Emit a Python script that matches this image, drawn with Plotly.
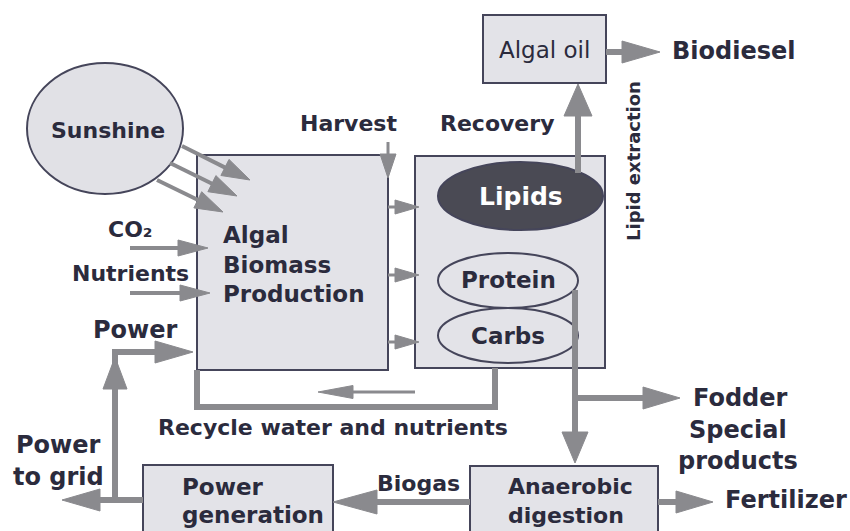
import plotly.graph_objects as go
import math

# ---------------- diagram content ----------------
FONT = "DejaVu Sans"
TXT = "#2b2b3d"
EDGE = "#45455a"
FILL = "#e3e3e8"
ARROW = "#8a8a8e"
DARK = "#4a4a54"

# boxes: (x0, y0, x1, y1)
box_algal_oil = (483, 15, 606, 83)
box_biomass = (197, 155, 388, 370)
box_components = (415, 156, 605, 368)
box_power_gen = (143, 465, 333, 545)
box_anaerobic = (470, 466, 658, 545)

# ellipses: (x0, y0, x1, y1, fill)
ell_sunshine = (27, 63, 183, 194, "#e1e1e6")
ell_lipids = (438, 162, 603, 230, DARK)
ell_protein = (438, 253, 578, 308, FILL)
ell_carbs = (438, 308, 578, 363, FILL)

# labels: (text, x, y, anchor, bold, color, angle, size)
labels = [
    ("Algal oil", 544, 50, "center", False, TXT, 0, 23),
    ("Biodiesel", 733, 51, "center", True, TXT, 0, 24),
    ("Sunshine", 108, 130, "center", True, TXT, 0, 22),
    ("Harvest", 348, 123, "center", True, TXT, 0, 22),
    ("Recovery", 497, 123, "center", True, TXT, 0, 22),
    ("Lipid extraction", 633, 161, "center", True, TXT, -90, 18),
    ("CO₂", 130, 229, "center", True, TXT, 0, 22),
    ("Nutrients", 130, 273, "center", True, TXT, 0, 22),
    ("Power", 135, 330, "center", True, TXT, 0, 24),
    ("Algal", 221, 235, "left", True, TXT, 0, 23),
    ("Biomass", 221, 265, "left", True, TXT, 0, 23),
    ("Production", 221, 294, "left", True, TXT, 0, 23),
    ("Lipids", 521, 196, "center", True, "white", 0, 25),
    ("Protein", 508, 280, "center", True, TXT, 0, 23),
    ("Carbs", 508, 336, "center", True, TXT, 0, 23),
    ("Recycle water and nutrients", 333, 427, "center", True, TXT, 0, 22),
    ("Power", 58, 445, "center", True, TXT, 0, 24),
    ("to grid", 58, 477, "center", True, TXT, 0, 24),
    ("Power", 180, 487, "left", True, TXT, 0, 23),
    ("generation", 180, 515, "left", True, TXT, 0, 23),
    ("Biogas", 418, 483, "center", True, TXT, 0, 22),
    ("Anaerobic", 506, 486, "left", True, TXT, 0, 22),
    ("digestion", 506, 515, "left", True, TXT, 0, 22),
    ("Fodder", 740, 398, "center", True, TXT, 0, 24),
    ("Special", 738, 430, "center", True, TXT, 0, 24),
    ("products", 738, 461, "center", True, TXT, 0, 24),
    ("Fertilizer", 786, 500, "center", True, TXT, 0, 24),
]

# arrows: (points polyline, shaft width, head length, head width)
arrows = [
    ([(606, 52), (660, 52)], 6, 38, 22),            # oil -> biodiesel
    ([(182, 146), (250, 180)], 4, 28, 18),          # sunshine rays
    ([(170, 163), (237, 196)], 4, 28, 18),
    ([(157, 180), (223, 212)], 4, 28, 18),
    ([(388, 142), (388, 178)], 3, 24, 16),          # harvest
    ([(130, 248), (208, 248)], 4, 30, 16),          # CO2
    ([(130, 293), (210, 293)], 4, 30, 16),          # nutrients
    ([(388, 207), (419, 207)], 3, 24, 14),          # biomass -> components
    ([(388, 275), (419, 275)], 3, 24, 14),
    ([(388, 342), (419, 342)], 3, 24, 14),
    ([(578, 173), (578, 84)], 6, 32, 28),           # recovery
    ([(575, 290), (575, 463)], 6, 31, 26),          # down to digestion
    ([(575, 398), (680, 398)], 6, 37, 22),          # fodder
    ([(415, 392), (318, 392)], 3, 35, 13),          # recycle inner arrow
    ([(143, 500), (62, 500)], 6, 38, 22),           # power to grid
    ([(115, 500), (115, 352), (193, 352)], 6, 38, 22),  # power to biomass
    ([(115, 389), (115, 357)], 6, 32, 24),          # up arrowhead on power line
    ([(470, 502), (333, 502)], 6, 44, 24),          # biogas
    ([(658, 502), (713, 502)], 6, 37, 22),          # fertilizer
]

# plain connector lines (recycle loop)
loops = [
    ([(495, 368), (495, 407), (197, 407), (197, 370)], 6),
]

# ---------------- build ----------------
fig = go.Figure()
shapes = []
annotations = []


def add_arrow(pts, w, hl, hw):
    (xa, ya), (xb, yb) = pts[-2], pts[-1]
    L = math.hypot(xb - xa, yb - ya)
    dx, dy = (xb - xa) / L, (yb - ya) / L
    bx, by = xb - dx * hl, yb - dy * hl
    shaft = pts[:-1] + [(bx + dx * 2, by + dy * 2)]
    path = "M " + " L ".join(f"{x:.1f},{y:.1f}" for x, y in shaft)
    shapes.append(dict(type="path", path=path, xref="x", yref="y",
                       line=dict(color=ARROW, width=w)))
    px, py = -dy, dx
    head = (f"M {xb:.1f},{yb:.1f} L {bx + px * hw / 2:.1f},{by + py * hw / 2:.1f} "
            f"L {bx - px * hw / 2:.1f},{by - py * hw / 2:.1f} Z")
    shapes.append(dict(type="path", path=head, xref="x", yref="y",
                       fillcolor=ARROW, line=dict(color=ARROW, width=1)))


for pts, w in loops:
    path = "M " + " L ".join(f"{x},{y}" for x, y in pts)
    shapes.append(dict(type="path", path=path, xref="x", yref="y",
                       line=dict(color=ARROW, width=w)))

for b in [box_algal_oil, box_biomass, box_components, box_power_gen, box_anaerobic]:
    shapes.append(dict(type="rect", x0=b[0], y0=b[1], x1=b[2], y1=b[3],
                       xref="x", yref="y", fillcolor=FILL,
                       line=dict(color=EDGE, width=2), layer="below"))

for e in [ell_sunshine, ell_lipids, ell_protein, ell_carbs]:
    shapes.append(dict(type="circle", x0=e[0], y0=e[1], x1=e[2], y1=e[3],
                       xref="x", yref="y", fillcolor=e[4],
                       line=dict(color=EDGE, width=2)))

for pts, w, hl, hw in arrows:
    add_arrow(pts, w, hl, hw)

for text, x, y, anchor, bold, color, ang, size in labels:
    annotations.append(dict(
        text=f"<b>{text}</b>" if bold else text, x=x, y=y, xref="x", yref="y",
        xanchor=anchor, yanchor="middle", showarrow=False, textangle=ang,
        font=dict(family=FONT, size=size, color=color)))

fig.update_layout(
    width=850, height=531, margin=dict(l=0, r=0, t=0, b=0),
    paper_bgcolor="white", plot_bgcolor="white",
    xaxis=dict(range=[0, 850], visible=False, fixedrange=True),
    yaxis=dict(range=[531, 0], visible=False, fixedrange=True),
    shapes=shapes, annotations=annotations, showlegend=False,
)

fig.write_html(
    "out.html",
    config={"displayModeBar": False},
    post_script="document.body.style.margin='0';document.body.style.overflow='hidden';",
)
